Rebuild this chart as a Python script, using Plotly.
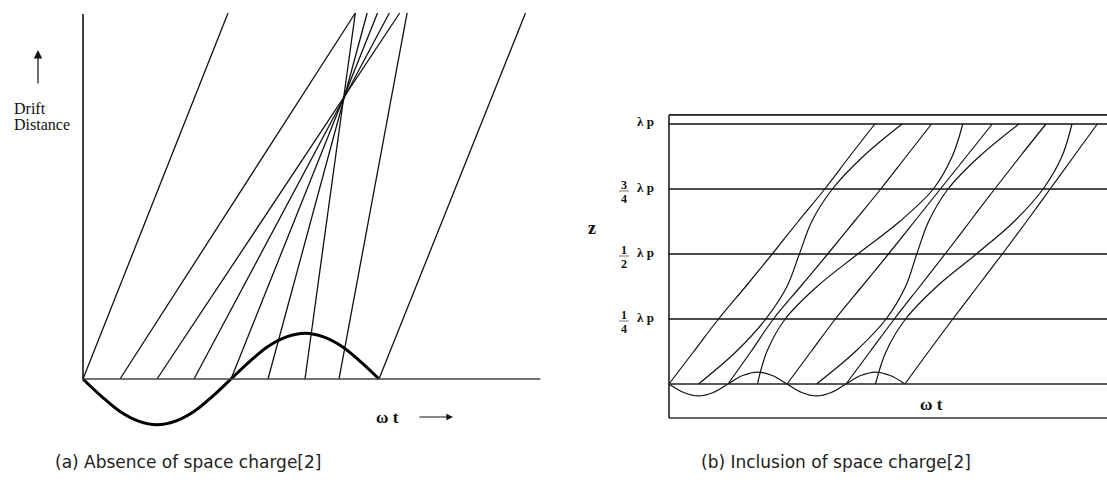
import plotly.graph_objects as go

W, H = 1107, 484

# ---------------- (a) drift without space charge ----------------
# departure phase at the gap and arrival phase at the end of the drift (units of pi)
a_depart = [0.0, 0.25, 0.5, 0.75, 1.0, 1.25, 1.5, 1.73, 2.0]
a_arrive = [0.98, 1.84, 2.14, 2.07, 1.99, 1.92, 1.84, 2.19, 2.99]
a_drift = [0.0, 1.0]

# gap voltage over one RF period
a_phase = [0, 0.125, 0.25, 0.375, 0.5, 0.625, 0.75, 0.875, 1.0,
           1.125, 1.25, 1.375, 1.5, 1.625, 1.75, 1.875, 2.0]
a_volt = [0, -0.38, -0.71, -0.92, -1, -0.92, -0.71, -0.38, 0,
          0.38, 0.71, 0.92, 1, 0.92, 0.71, 0.38, 0]

# ---------------- (b) drift with space charge ----------------
# z / lambda_p sampled along each trajectory
b_z = [0, 0.125, 0.25, 0.375, 0.5, 0.625, 0.75, 0.875, 1.0]
# phase (units of pi) of each electron at those heights
b_e0 = [0.0, 0.42, 0.84, 1.30, 1.75, 2.19, 2.64, 3.06, 3.49]
b_e1 = [0.5, 1.14, 1.64, 2.00, 2.21, 2.42, 2.77, 3.29, 3.95]
b_e2 = [1.0, 1.39, 1.77, 2.23, 2.69, 3.14, 3.59, 4.02, 4.45]
b_e3 = [1.5, 1.66, 1.97, 2.51, 3.20, 3.91, 4.48, 4.80, 4.98]
b_e4 = [2.0, 2.41, 2.82, 3.27, 3.72, 4.16, 4.60, 5.04, 5.48]
b_e5 = [2.5, 3.16, 3.68, 4.01, 4.20, 4.40, 4.73, 5.26, 5.93]
b_e6 = [3.0, 3.41, 3.82, 4.25, 4.68, 5.10, 5.52, 5.95, 6.39]
b_e7 = [3.5, 3.68, 4.01, 4.54, 5.21, 5.85, 6.34, 6.66, 6.83]
b_e8 = [4.0, 4.40, 4.81, 5.23, 5.65, 6.06, 6.46, 6.86, 7.26]

b_phase = [0, 0.25, 0.5, 0.75, 1.0, 1.25, 1.5, 1.75, 2.0,
           2.25, 2.5, 2.75, 3.0, 3.25, 3.5, 3.75, 4.0]
b_volt = [0, -0.71, -1, -0.71, 0, 0.71, 1, 0.71, 0,
          -0.71, -1, -0.71, 0, 0.71, 1, 0.71, 0]

b_levels = [0.25, 0.5, 0.75, 1.0]
b_num = ["1", "1", "3"]
b_den = ["4", "2", "4"]

# display scale of the voltage waveforms
A_VOLT = 0.125
B_VOLT = 0.046

# axis ranges chosen so both panels sit side by side on the page
AX = [-0.5608, 3.2230]
AY = [-0.2869, 1.0355]
BX = [-1.847, 7.424]
BY = [-0.3846, 1.4769]
SPLIT = 560 / W

fig = go.Figure()

# ---- panel (a) ----
for d, a in zip(a_depart, a_arrive):
    fig.add_trace(go.Scatter(x=[d, a], y=a_drift, mode="lines",
                             line=dict(color="#111", width=1.3),
                             xaxis="x", yaxis="y", hoverinfo="skip"))
fig.add_trace(go.Scatter(x=a_phase, y=[v * A_VOLT for v in a_volt], mode="lines",
                         line=dict(color="#000", width=3, shape="spline"),
                         xaxis="x", yaxis="y", hoverinfo="skip"))

# ---- panel (b) ----
for e in [b_e0, b_e1, b_e2, b_e3, b_e4, b_e5, b_e6, b_e7, b_e8]:
    fig.add_trace(go.Scatter(x=e, y=b_z, mode="lines",
                             line=dict(color="#111", width=1.2, shape="spline"),
                             xaxis="x2", yaxis="y2", hoverinfo="skip"))
fig.add_trace(go.Scatter(x=b_phase, y=[v * B_VOLT for v in b_volt], mode="lines",
                         line=dict(color="#111", width=1.2, shape="spline"),
                         xaxis="x2", yaxis="y2", hoverinfo="skip"))

shapes = []
# axes of panel (a)
shapes.append(dict(type="line", xref="x", yref="y", x0=0, x1=0, y0=0, y1=0.997,
                   line=dict(color="#111", width=1.6)))
shapes.append(dict(type="line", xref="x", yref="y", x0=0, x1=3.09, y0=0, y1=0,
                   line=dict(color="#444", width=1.6)))
# frame and level lines of panel (b)
shapes.append(dict(type="line", xref="x2", yref="y2", x0=0, x1=BX[1], y0=1.035, y1=1.035,
                   line=dict(color="#222", width=1.6)))
shapes.append(dict(type="line", xref="x2", yref="y2", x0=0, x1=BX[1], y0=-0.131, y1=-0.131,
                   line=dict(color="#333", width=1.6)))
shapes.append(dict(type="line", xref="x2", yref="y2", x0=0, x1=0, y0=-0.131, y1=1.035,
                   line=dict(color="#222", width=1.6)))
shapes.append(dict(type="line", xref="x2", yref="y2", x0=0, x1=BX[1], y0=0, y1=0,
                   line=dict(color="#222", width=1.5)))
for lv in b_levels:
    shapes.append(dict(type="line", xref="x2", yref="y2", x0=0, x1=BX[1], y0=lv, y1=lv,
                       line=dict(color="#111", width=1.4)))


def px(xp):
    return xp / W


def py(yp):
    return 1 - yp / H


def label(xp, yp, text, size, family, xanchor="center", color="#111", **kw):
    return dict(x=px(xp), y=py(yp), xref="paper", yref="paper", showarrow=False,
                text=text, xanchor=xanchor, yanchor="middle",
                font=dict(family=family, size=size, color=color), **kw)


SERIF = "Liberation Serif"
ann = []
# panel (a) labels
ann.append(dict(x=px(38), y=py(50), xref="paper", yref="paper", ax=0, ay=35,
                showarrow=True, arrowhead=2, arrowsize=1.4, arrowwidth=1.2,
                arrowcolor="#111", text=""))
ann.append(label(12, 109, "Drift", 16, SERIF, xanchor="left"))
ann.append(label(12, 124, "Distance", 16, SERIF, xanchor="left"))
ann.append(label(387, 417, "<b>ω t</b>", 17, SERIF))
ann.append(dict(x=px(453), y=py(417), xref="paper", yref="paper", ax=-35, ay=0,
                showarrow=True, arrowhead=2, arrowsize=1.2, arrowwidth=1.1,
                arrowcolor="#111", text=""))

# panel (b) labels
ann.append(label(656, 121, "<b>λ p</b>", 13, SERIF, xanchor="right"))
line_py = {0.25: 319, 0.5: 254, 0.75: 189}
for lv, n, d in zip([0.25, 0.5, 0.75], b_num, b_den):
    yl = line_py[lv]
    ann.append(label(656, yl - 2, "<b>λ p</b>", 13, SERIF, xanchor="right"))
    ann.append(label(624, yl - 4, "<b>" + n + "</b>", 12, SERIF))
    ann.append(label(624, yl + 10, "<b>" + d + "</b>", 12, SERIF))
    shapes.append(dict(type="line", xref="paper", yref="paper",
                       x0=px(619), x1=px(629), y0=py(yl + 2), y1=py(yl + 2),
                       line=dict(color="#555", width=0.8)))
ann.append(label(592, 228, "<b>z</b>", 18, SERIF))
ann.append(label(931, 404, "<b>ω t</b>", 17, SERIF))

# captions
ann.append(label(188, 462, "(a) Absence of space charge[2]", 17, "DejaVu Sans", color="#222"))
ann.append(label(836, 462, "(b) Inclusion of space charge[2]", 17, "DejaVu Sans", color="#222"))

hidden = dict(visible=False, fixedrange=True)
fig.update_layout(
    width=W, height=H,
    margin=dict(l=0, r=0, t=0, b=0),
    paper_bgcolor="white", plot_bgcolor="white",
    showlegend=False,
    xaxis=dict(domain=[0, SPLIT], range=AX, **hidden),
    yaxis=dict(domain=[0, 1], range=AY, **hidden),
    xaxis2=dict(domain=[SPLIT, 1], range=BX, anchor="y2", **hidden),
    yaxis2=dict(domain=[0, 1], range=BY, anchor="x2", **hidden),
    shapes=shapes,
    annotations=ann,
)

fig.write_html("out.html", config=dict(displayModeBar=False))
